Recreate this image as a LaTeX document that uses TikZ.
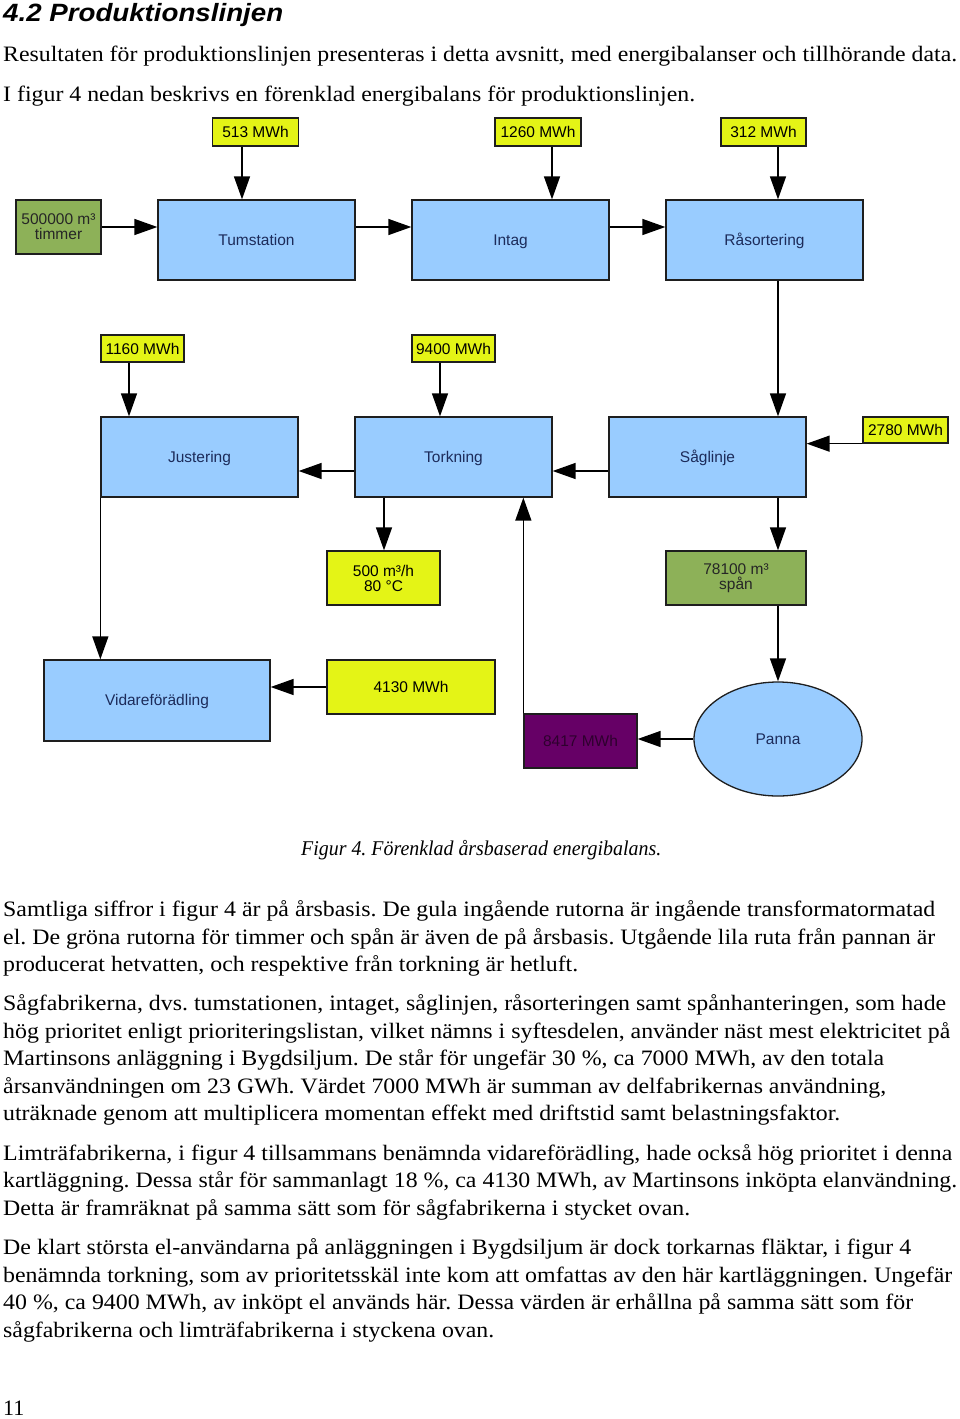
\documentclass[tikz,border=0pt]{standalone}
\usepackage{fontspec}
\setmainfont{Liberation Serif}
\setsansfont{Liberation Sans}
\usepackage{graphicx}
\usetikzlibrary{arrows.meta,shapes.geometric}
\frenchspacing
\definecolor{boxblue}{HTML}{99CCFF}
\definecolor{boxyellow}{HTML}{E4F416}
\definecolor{boxgreen}{HTML}{8DB158}
\definecolor{boxpurple}{HTML}{660066}
\definecolor{navytext}{HTML}{1C2B5A}
\definecolor{purpletext}{HTML}{2E002E}
\definecolor{edgecol}{HTML}{1E1E1E}
\tikzset{
  box/.style={draw=edgecol, line width=1.3pt, inner sep=0pt, align=center,
    font=\sffamily\fontsize{15.5}{17}\selectfont},
  oneline/.style={text height=11pt, text depth=1pt},
  bluebox/.style={box, oneline, fill=boxblue, text=navytext},
  yellowbox/.style={box, fill=boxyellow, text=black},
  greenbox/.style={box, fill=boxgreen, text=black!85},
  purplebox/.style={box, oneline, fill=boxpurple, text=purpletext},
  arr/.style={draw=black, line width=1.4pt, -{Triangle[length=23pt,width=16pt]}},
  bodyline/.style={anchor=base west, inner sep=0pt, font=\fontsize{22}{27}\selectfont},
}
\newcommand\tline[4]{\node[bodyline] (#1) at (3,#2) {\resizebox{#3pt}{\height}{#4}};}
\begin{document}
\begin{tikzpicture}[x=1pt,y=-1pt]
\fill[white] (0,0) rectangle (960,1419);
\useasboundingbox (0,0) rectangle (960,1419);

% heading and intro
\node[anchor=base west, inner sep=0pt, font=\sffamily\bfseries\itshape\fontsize{25}{28}\selectfont] (head) at (3,21) {\resizebox{280pt}{\height}{4.2 Produktionslinjen}};
\tline{i1}{61}{954}{Resultaten för produktionslinjen presenteras i detta avsnitt, med energibalanser och tillhörande data.}
\tline{i2}{101}{692}{I figur 4 nedan beskrivs en förenklad energibalans för produktionslinjen.}

% x / y reference coordinates
\coordinate (c513) at (242,0);
\coordinate (c1260) at (552,0);
\coordinate (c312) at (778,0);
\coordinate (c1160) at (129,0);
\coordinate (c9400) at (440,0);
\coordinate (c384) at (384,0);
\coordinate (r1) at (0,227);
\coordinate (r2) at (0,471);

% row 1
\node[yellowbox, minimum width=86, minimum height=28] (y513) at (255.5,132) {513 MWh};
\node[yellowbox, minimum width=86, minimum height=28] (y1260) at (538,132) {1260 MWh};
\node[yellowbox, minimum width=85, minimum height=28] (y312) at (763.5,132) {312 MWh};
\node[greenbox, minimum width=85, minimum height=54] (timmer) at (58.5,227) {500000 m³\\[-2pt]timmer};
\node[bluebox, minimum width=197, minimum height=80] (tum) at (256.5,240) {Tumstation};
\node[bluebox, minimum width=197, minimum height=80] (intag) at (510.5,240) {Intag};
\node[bluebox, minimum width=197, minimum height=80] (raso) at (764.5,240) {Råsortering};

% row 2
\node[yellowbox, minimum width=83, minimum height=27] (y1160) at (142.5,348.5) {1160 MWh};
\node[yellowbox, minimum width=83, minimum height=27] (y9400) at (453.5,348.5) {9400 MWh};
\node[bluebox, minimum width=197, minimum height=80] (just) at (199.5,457) {Justering};
\node[bluebox, minimum width=197, minimum height=80] (tork) at (453.5,457) {Torkning};
\node[bluebox, minimum width=197, minimum height=80] (sag) at (707.5,457) {Såglinje};
\node[yellowbox, minimum width=85, minimum height=26] (y2780) at (905.5,430) {2780 MWh};

% row 3
\node[yellowbox, minimum width=113, minimum height=54] (luft) at (383.5,578) {500 m³/h\\[-2pt]80 °C};
\node[greenbox, minimum width=140, minimum height=54] (span) at (736,578) {78100 m³\\[-2pt]spån};

% row 4
\node[bluebox, minimum width=226, minimum height=81] (vidare) at (157,700.5) {Vidareförädling};
\node[yellowbox, minimum width=168, minimum height=54] (y4130) at (411,687) {4130 MWh};
\node[purplebox, minimum width=113, minimum height=54] (hetv) at (580.5,741) {8417 MWh};
\node[bluebox, ellipse, minimum width=168, minimum height=114] (panna) at (778,739) {Panna};

% connectors
\draw[arr] (y513.south -| c513) -- (tum.north -| c513);
\draw[arr] (y1260.south -| c1260) -- (intag.north -| c1260);
\draw[arr] (y312.south -| c312) -- (raso.north -| c312);
\draw[arr] (timmer.east |- r1) -- (tum.west |- r1);
\draw[arr] (tum.east |- r1) -- (intag.west |- r1);
\draw[arr] (intag.east |- r1) -- (raso.west |- r1);
\draw[arr] (raso.south -| c312) -- (sag.north -| c312);
\draw[arr] (y1160.south -| c1160) -- (just.north -| c1160);
\draw[arr] (y9400.south -| c9400) -- (tork.north -| c9400);
\draw[arr] (tork.west |- r2) -- (just.east |- r2);
\draw[arr] (sag.west |- r2) -- (tork.east |- r2);
\draw[arr] (y2780.south west) -- (y2780.south west -| sag.east);
\draw[arr] (tork.south -| c384) -- (luft.north -| c384);
\draw[arr] (sag.south -| c312) -- (span.north -| c312);
\draw[arr] (span.south -| c312) -- (panna.north);
\draw[arr] (just.south west) -- (just.south west |- vidare.north);
\draw[arr] (y4130.west) -- (y4130.west -| vidare.east);
\draw[arr] (panna.west) -- (panna.west -| hetv.east);
\draw[arr] (hetv.north west) -- (hetv.north west |- tork.south);

% caption and body text
\node[anchor=base west, inner sep=0pt, font=\itshape\fontsize{21}{25}\selectfont] (cap) at (301,855) {\resizebox{360pt}{\height}{Figur 4. Förenklad årsbaserad energibalans.}};

\tline{p1}{916}{932}{Samtliga siffror i figur 4 är på årsbasis. De gula ingående rutorna är ingående transformatormatad}
\tline{p2}{944}{932}{el. De gröna rutorna för timmer och spån är även de på årsbasis. Utgående lila ruta från pannan är}
\tline{p3}{971}{575}{producerat hetvatten, och respektive från torkning är hetluft.}

\tline{p4}{1010}{943}{Sågfabrikerna, dvs. tumstationen, intaget, såglinjen, råsorteringen samt spånhanteringen, som hade}
\tline{p5}{1038}{947}{hög prioritet enligt prioriteringslistan, vilket nämns i syftesdelen, använder näst mest elektricitet på}
\tline{p6}{1065}{881}{Martinsons anläggning i Bygdsiljum. De står för ungefär 30 \%, ca 7000 MWh, av den totala}
\tline{p7}{1093}{883}{årsanvändningen om 23 GWh. Värdet 7000 MWh är summan av delfabrikernas användning,}
\tline{p8}{1120}{837}{uträknade genom att multiplicera momentan effekt med driftstid samt belastningsfaktor.}

\tline{p9}{1160}{949}{Limträfabrikerna, i figur 4 tillsammans benämnda vidareförädling, hade också hög prioritet i denna}
\tline{p10}{1187}{954}{kartläggning. Dessa står för sammanlagt 18 \%, ca 4130 MWh, av Martinsons inköpta elanvändning.}
\tline{p11}{1215}{687}{Detta är framräknat på samma sätt som för sågfabrikerna i stycket ovan.}

\tline{p12}{1254}{908}{De klart största el-användarna på anläggningen i Bygdsiljum är dock torkarnas fläktar, i figur 4}
\tline{p13}{1282}{949}{benämnda torkning, som av prioritetsskäl inte kom att omfattas av den här kartläggningen. Ungefär}
\tline{p14}{1309}{910}{40 \%, ca 9400 MWh, av inköpt el används här. Dessa värden är erhållna på samma sätt som för}
\tline{p15}{1337}{491}{sågfabrikerna och limträfabrikerna i styckena ovan.}

\node[bodyline] (pnum) at (3,1415) {11};
\end{tikzpicture}
\end{document}
